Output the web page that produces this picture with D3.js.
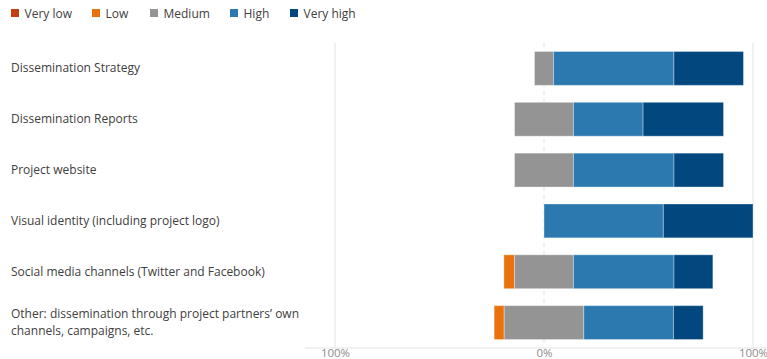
<!DOCTYPE html>
<html>
<head>
<meta charset="utf-8">
<script src="https://cdnjs.cloudflare.com/ajax/libs/d3/7.8.5/d3.min.js"></script>
<style>
  html, body { margin: 0; padding: 0; background: #fff; }
  svg { display: block; font-family: "Open Sans", "Noto Sans", sans-serif; }
</style>
</head>
<body>
<svg id="chart" width="767" height="359"></svg>
<script>
// Survey items (top to bottom); "\n" splits a label over two lines
const categories = [
  "Dissemination Strategy",
  "Dissemination Reports",
  "Project website",
  "Visual identity (including project logo)",
  "Social media channels (Twitter and Facebook)",
  "Other: dissemination through project partners\u2019 own\nchannels, campaigns, etc."
];
const levels = ["Very low", "Low", "Medium", "High", "Very high"];
const levelColors = ["#c0410f", "#e8720c", "#949494", "#2c79b0", "#02487f"];

// Share of answers per level, in percent
const veryLow  = [0,   0,    0,    0,    0,    0];
const low      = [0,   0,    0,    0,    5.1,  4.8];
const medium   = [9.1, 28.2, 28.2, 0,    28.2, 38.1];
const high     = [57.6, 33.3, 48.1, 57.1, 48.1, 42.9];
const veryHigh = [33.3, 38.5, 23.7, 42.9, 18.6, 14.2];
const tickValues = [-100, 0, 100];

const series = [veryLow, low, medium, high, veryHigh];

const svg = d3.select("#chart");
const margin = { top: 43, left: 335, bottom: 11 };
const plotRight = 753;
const plotBottom = 359 - margin.bottom;

const x = d3.scaleLinear().domain([-100, 100]).range([margin.left, plotRight]);
const y = d3.scaleBand().domain(categories).range([margin.top, plotBottom]).paddingInner(1 / 3).paddingOuter(1 / 6);

// Gridlines
const grid = svg.append("g");
grid.selectAll("line").data(tickValues).join("line")
  .attr("x1", d => x(d)).attr("x2", d => x(d))
  .attr("y1", margin.top).attr("y2", plotBottom)
  .attr("stroke", "#e3e3e3")
  .attr("stroke-width", 1)
  .attr("stroke-dasharray", d => d === 0 ? "4,4" : null);

// Bottom axis
const axis = svg.append("g")
  .attr("transform", `translate(0,${plotBottom})`)
  .call(d3.axisBottom(x).tickValues(tickValues).tickSize(0).tickPadding(1)
    .tickFormat(d => Math.abs(d) + "%"));
axis.select(".domain").remove();
axis.append("line").attr("x1", margin.left - 30).attr("x2", 767)
  .attr("stroke", "#e3e3e3");
axis.selectAll("text").attr("fill", "#8c8c8c").attr("font-size", 11.5)
  .attr("font-family", "\"Open Sans\", sans-serif");

// Diverging stacks: Medium is centred on 0, lower levels to the left, higher to the right
const segments = [];
categories.forEach((cat, i) => {
  let start = -(veryLow[i] + low[i] + medium[i] / 2);
  series.forEach((s, k) => {
    const v = s[i];
    if (v > 0) segments.push({ cat, k, x0: start, x1: start + v });
    start += v;
  });
});

svg.append("g").selectAll("rect").data(segments).join("rect")
  .attr("x", d => x(d.x0))
  .attr("width", d => x(d.x1) - x(d.x0))
  .attr("y", d => y(d.cat))
  .attr("height", y.bandwidth())
  .attr("fill", d => levelColors[d.k])
  .attr("stroke", "#ffffff")
  .attr("stroke-opacity", 0.35)
  .attr("stroke-width", 1);

// Category labels
const labels = svg.append("g").selectAll("text").data(categories).join("text")
  .attr("x", 11)
  .attr("fill", "#404040")
  .attr("font-size", 12);
labels.each(function (d) {
  const lines = d.split("\n");
  const cy = y(d) + y.bandwidth() / 2;
  const lh = 17;
  const t = d3.select(this);
  lines.forEach((ln, j) => {
    t.append("tspan").attr("x", 11)
      .attr("y", cy + 4 + (j - (lines.length - 1) / 2) * lh)
      .text(ln);
  });
});

// Legend
const legendX = [11, 92, 150, 230, 290];
const legend = svg.append("g").selectAll("g").data(levels).join("g")
  .attr("transform", (d, i) => `translate(${legendX[i]},9)`);
legend.append("rect").attr("width", 8).attr("height", 8)
  .attr("fill", (d, i) => levelColors[i]);
legend.append("text").attr("x", 13.5).attr("y", 8.5)
  .attr("fill", "#404040").attr("font-size", 12).text(d => d);
</script>
</body>
</html>
